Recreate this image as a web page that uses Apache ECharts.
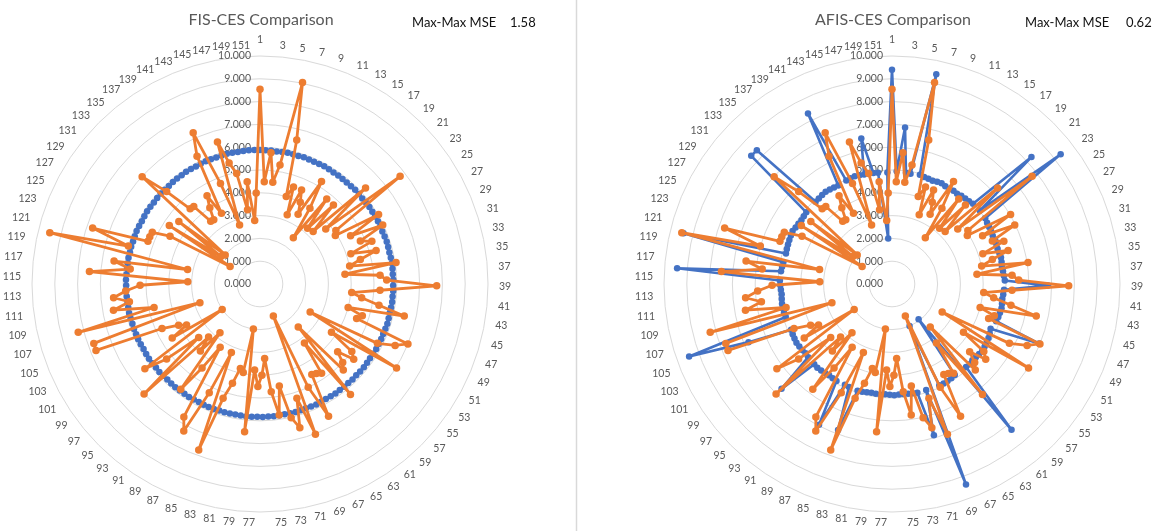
<!DOCTYPE html>
<html>
<head>
<meta charset="utf-8">
<script src="https://cdn.jsdelivr.net/npm/echarts@6/dist/echarts.min.js"></script>
<style>
  html, body { margin: 0; padding: 0; background: #ffffff; }
  #chart { width: 1157px; height: 531px; }
</style>
</head>
<body>
<div id="chart"></div>
<script>
// Case numbers around the radar (1..151)
const categories = [
  1, 2, 3, 4, 5, 6, 7, 8, 9, 10, 11, 12, 13, 14, 15, 16, 17, 18, 19, 20,
  21, 22, 23, 24, 25, 26, 27, 28, 29, 30, 31, 32, 33, 34, 35, 36, 37, 38, 39, 40,
  41, 42, 43, 44, 45, 46, 47, 48, 49, 50, 51, 52, 53, 54, 55, 56, 57, 58, 59, 60,
  61, 62, 63, 64, 65, 66, 67, 68, 69, 70, 71, 72, 73, 74, 75, 76, 77, 78, 79, 80,
  81, 82, 83, 84, 85, 86, 87, 88, 89, 90, 91, 92, 93, 94, 95, 96, 97, 98, 99, 100,
  101, 102, 103, 104, 105, 106, 107, 108, 109, 110, 111, 112, 113, 114, 115, 116, 117, 118, 119, 120,
  121, 122, 123, 124, 125, 126, 127, 128, 129, 130, 131, 132, 133, 134, 135, 136, 137, 138, 139, 140,
  141, 142, 143, 144, 145, 146, 147, 148, 149, 150, 151
];

// CES scores (orange, shown in both panels)
const cesValues = [
  8.54, 4.49, 5.78, 4.50, 5.29, 9.03, 6.52, 4.01, 4.50, 3.26,
  4.51, 4.00, 3.49, 5.24, 3.98, 2.50, 4.74, 3.21, 4.73, 3.28,
  6.26, 3.76, 7.75, 4.07, 3.93, 6.03, 4.50, 5.97, 4.79, 5.25,
  4.20, 5.30, 4.53, 4.01, 6.04, 3.75, 5.28, 5.56, 7.75, 5.27,
  4.04, 4.50, 5.30, 6.48, 4.00, 4.70, 4.50, 7.00, 6.51, 5.77,
  2.52, 7.03, 3.78, 5.00, 5.27, 4.52, 5.00, 5.25, 2.52, 6.26,
  3.24, 4.76, 4.64, 4.57, 6.53, 5.00, 1.52, 7.02, 5.27, 6.54,
  6.02, 4.55, 5.81, 4.75, 3.27, 4.00, 4.50, 3.78, 6.51, 2.00,
  3.95, 3.80, 4.52, 5.27, 7.76, 3.26, 5.26, 7.26, 6.72, 3.28,
  4.48, 5.78, 2.77, 3.93, 3.24, 7.01, 3.57, 5.25, 6.27, 2.00,
  4.52, 3.69, 4.00, 4.72, 7.76, 7.74, 2.76, 8.25, 4.76, 6.53,
  5.78, 6.45, 5.90, 5.26, 3.17, 7.50, 5.73, 6.48, 3.24, 9.49,
  6.01, 7.74, 5.26, 5.26, 5.24, 4.47, 1.52, 4.73, 2.10, 4.49,
  1.99, 6.99, 5.76, 4.50, 4.47, 3.50, 3.47, 4.00, 4.51, 3.53,
  6.25, 7.25, 4.74, 2.74, 6.50, 5.48, 4.95, 3.30, 4.52, 2.80,
  4.00
];

// FIS scores (blue, left panel)
const fisValues = [
  5.88, 5.87, 5.88, 5.86, 5.87, 5.88, 5.87, 5.86, 5.88, 5.87,
  5.86, 5.87, 5.88, 5.87, 5.86, 5.87, 5.86, 5.85, 5.86, 5.87,
  5.86, 5.85, 5.86, 5.87, 5.86, 5.85, 5.86, 5.85, 5.84, 5.85,
  5.86, 5.85, 5.84, 5.85, 5.86, 5.85, 5.84, 5.85, 5.84, 5.85,
  5.84, 5.85, 5.84, 5.83, 5.84, 5.85, 5.84, 5.83, 5.84, 5.83,
  5.84, 5.83, 5.82, 5.83, 5.84, 5.83, 5.82, 5.83, 5.82, 5.83,
  5.82, 5.83, 5.82, 5.81, 5.82, 5.83, 5.82, 5.81, 5.82, 5.83,
  5.82, 5.81, 5.82, 5.83, 5.82, 5.83, 5.82, 5.83, 5.84, 5.83,
  5.82, 5.83, 5.84, 5.83, 5.84, 5.85, 5.84, 5.83, 5.84, 5.85,
  5.84, 5.85, 5.86, 5.85, 5.84, 5.85, 5.86, 5.85, 5.86, 5.87,
  5.86, 5.85, 5.86, 5.87, 5.86, 5.87, 5.86, 5.87, 5.88, 5.87,
  5.86, 5.87, 5.88, 5.87, 5.88, 5.87, 5.86, 5.87, 5.88, 5.87,
  5.88, 5.87, 5.88, 5.89, 5.88, 5.87, 5.88, 5.89, 5.88, 5.87,
  5.88, 5.89, 5.88, 5.87, 5.88, 5.89, 5.88, 5.89, 5.88, 5.87,
  5.88, 5.89, 5.88, 5.87, 5.88, 5.89, 5.88, 5.87, 5.88, 5.89,
  5.88
];

// AFIS scores (blue, right panel)
const afisValues = [
  9.40, 4.95, 6.89, 4.92, 4.90, 9.40, 4.95, 4.90, 4.88, 4.86,
  4.90, 4.92, 4.88, 4.86, 4.90, 4.88, 4.92, 4.94, 4.96, 5.00,
  8.27, 5.02, 9.33, 5.00, 4.96, 4.94, 4.92, 4.90, 4.92, 4.90,
  4.88, 4.90, 4.92, 4.90, 4.88, 4.90, 4.92, 4.95, 6.84, 4.92,
  4.90, 4.88, 4.90, 4.92, 4.90, 4.88, 4.85, 6.96, 4.75, 4.80,
  4.85, 4.88, 4.90, 4.92, 4.90, 4.88, 4.86, 4.90, 4.88, 8.27,
  1.94, 4.85, 4.88, 4.90, 4.92, 4.90, 2.00, 9.37, 4.88, 6.88,
  4.90, 4.88, 4.86, 4.85, 4.86, 4.88, 4.86, 4.85, 4.88, 4.86,
  4.85, 4.88, 4.90, 4.92, 6.83, 4.90, 4.88, 6.95, 4.90, 4.88,
  4.86, 4.88, 4.90, 4.92, 4.90, 6.68, 4.88, 4.86, 4.88, 4.90,
  4.92, 4.90, 4.88, 4.86, 6.79, 9.45, 4.88, 4.90, 4.92, 4.90,
  4.88, 4.86, 4.88, 4.90, 4.92, 9.45, 4.90, 4.88, 4.86, 9.41,
  4.84, 4.86, 4.88, 4.90, 4.92, 4.94, 4.90, 4.88, 4.86, 4.88,
  4.90, 8.35, 8.34, 4.92, 4.94, 4.96, 4.98, 4.96, 4.94, 4.92,
  8.34, 4.96, 4.98, 5.00, 4.98, 4.96, 6.52, 4.94, 4.92, 2.00,
  4.90
];

// Radial scale labels
const valueTickLabels = ['0.000', '1.000', '2.000', '3.000', '4.000', '5.000',
                         '6.000', '7.000', '8.000', '9.000', '10.000'];

const panels = [
  { title: 'FIS-CES Comparison', mse: '1.58', model: fisValues, cx: 260, cy: 284, mseX: 412, valX: 510 },
  { title: 'AFIS-CES Comparison', mse: '0.62', model: afisValues, cx: 892, cy: 284, mseX: 1025, valX: 1126 }
];

const BLUE = '#4472C4';
const ORANGE = '#ED7D31';
const GRID = '#d9d9d9';
const TEXT = '#595959';
const FONT = 'Lato, "Liberation Sans", sans-serif';
const R = 228;

// ECharts lays radar indicators out counter-clockwise; list them in reverse
// (keeping case 1 at the top) so the cases run clockwise.
function clockwise(arr) {
  return [arr[0]].concat(arr.slice(1).reverse());
}

const orderedCats = clockwise(categories);

const option = {
  animation: false,
  backgroundColor: '#ffffff',
  radar: panels.map(p => ({
    center: [p.cx, p.cy],
    radius: R,
    startAngle: 90,
    shape: 'circle',
    splitNumber: 10,
    indicator: orderedCats.map(c => ({ name: String(c), min: 0, max: 10 })),
    axisName: {
      color: TEXT,
      fontSize: 10.5,
      fontFamily: FONT,
      formatter: name => (Number(name) % 2 === 1 ? name : '')
    },
    axisNameGap: 11,
    axisLine: { show: false },
    axisTick: { show: false },
    axisLabel: { show: false },
    splitLine: { lineStyle: { color: GRID, width: 1 } },
    splitArea: { show: false }
  })),
  polar: panels.map(p => ({ center: [p.cx, p.cy], radius: R })),
  angleAxis: panels.map((p, i) => ({
    polarIndex: i, type: 'value', startAngle: 90, show: false
  })),
  radiusAxis: panels.map((p, i) => ({
    polarIndex: i,
    type: 'value',
    min: 0,
    max: 10,
    interval: 1,
    axisLine: { show: false },
    axisTick: { show: false },
    splitLine: { show: false },
    axisLabel: {
      show: true,
      color: TEXT,
      fontSize: 10.5,
      fontFamily: FONT,
      margin: 9,
      formatter: v => valueTickLabels[Math.round(v)]
    },
    z: 1
  })),
  series: [],
  graphic: []
};

panels.forEach((p, i) => {
  option.series.push({
    type: 'radar',
    radarIndex: i,
    z: 2,
    symbol: 'circle',
    symbolSize: 6.5,
    lineStyle: { color: BLUE, width: 2.6 },
    itemStyle: { color: BLUE },
    data: [{ value: clockwise(p.model) }]
  });
  option.series.push({
    type: 'radar',
    radarIndex: i,
    z: 3,
    symbol: 'circle',
    symbolSize: 7.5,
    lineStyle: { color: ORANGE, width: 2.8 },
    itemStyle: { color: ORANGE },
    data: [{ value: clockwise(cesValues) }]
  });
  option.graphic.push(
    {
      type: 'text', x: p.cx + 1, y: 20,
      style: { text: p.title, fill: TEXT, fontSize: 16, fontFamily: FONT,
               align: 'center', verticalAlign: 'middle' }
    },
    {
      type: 'text', x: p.mseX, y: 23,
      style: { text: 'Max-Max MSE', fill: '#111111', fontSize: 13, fontFamily: FONT,
               align: 'left', verticalAlign: 'middle' }
    },
    {
      type: 'text', x: p.valX, y: 23,
      style: { text: p.mse, fill: '#111111', fontSize: 13, fontFamily: FONT,
               align: 'left', verticalAlign: 'middle' }
    }
  );
});

// Divider between the two panels
option.graphic.push({
  type: 'line',
  shape: { x1: 576.5, y1: 0, x2: 576.5, y2: 531 },
  style: { stroke: '#d9d9d9', lineWidth: 1.5 }
});

const chart = echarts.init(document.getElementById('chart'), null, { renderer: 'canvas' });
chart.setOption(option);
</script>
</body>
</html>
